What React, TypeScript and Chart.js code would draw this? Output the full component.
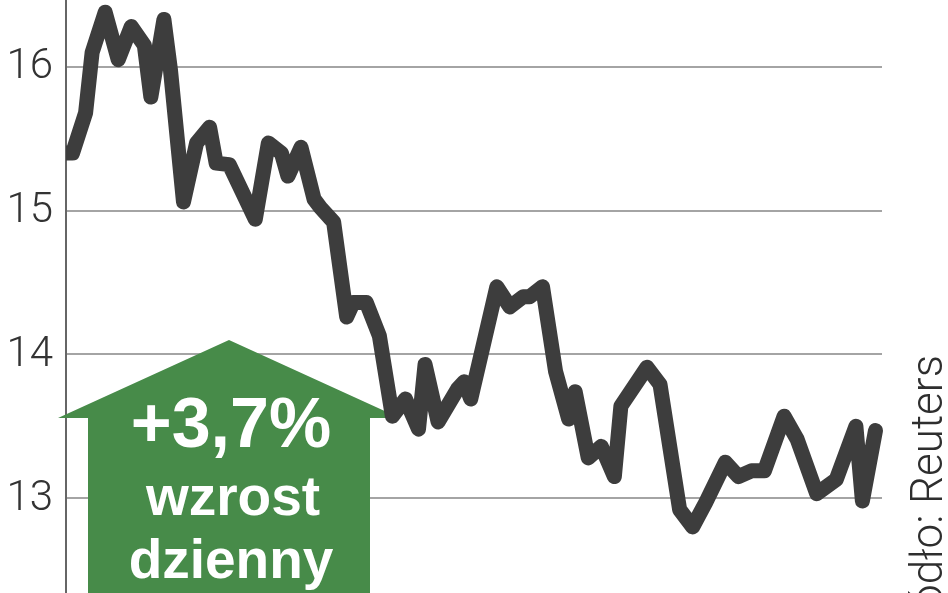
import * as React from 'react';
import { Chart, registerables } from 'chart.js';

Chart.register(...registerables);

// trading day number (from the first day shown) and closing price
const dayIndex = [0, 1, 3, 4, 6, 8, 10, 12, 13, 15, 16, 18, 20, 22, 23, 25, 29, 31, 33, 34, 36, 38, 39, 41, 43, 44, 46, 48, 50, 52, 54, 55, 57, 60, 61, 62, 66, 68, 70, 71, 73, 75, 77, 78, 80, 82, 84, 85, 89, 91, 94, 96, 98, 101, 103, 105, 107, 110, 112, 115, 118, 121, 122, 124];
const price = [15.40, 15.40, 15.68, 16.10, 16.38, 16.05, 16.28, 16.15, 15.79, 16.33, 15.98, 15.06, 15.47, 15.58, 15.33, 15.32, 14.94, 15.47, 15.40, 15.24, 15.44, 15.08, 15.02, 14.92, 14.26, 14.36, 14.36, 14.13, 13.57, 13.69, 13.48, 13.93, 13.53, 13.76, 13.81, 13.69, 14.47, 14.33, 14.40, 14.40, 14.47, 13.88, 13.55, 13.74, 13.28, 13.36, 13.15, 13.64, 13.91, 13.79, 12.92, 12.80, 12.97, 13.25, 13.15, 13.19, 13.19, 13.57, 13.41, 13.03, 13.13, 13.50, 12.98, 13.47];
const yTicks = [13, 14, 15, 16];

const badgeLines = ['+3,7%', 'wzrost', 'dzienny'];
const sourceText = 'Źródło: Reuters';

const GREEN = '#478b49';

// green "up" arrow with the daily change, under the line but over the grid
const badgePlugin = {
    id: 'badge',
    beforeDatasetsDraw(chart: Chart) {
        const ctx = chart.ctx;
        ctx.save();
        ctx.fillStyle = GREEN;
        ctx.beginPath();
        ctx.moveTo(229, 340);
        ctx.lineTo(400, 418);
        ctx.lineTo(370, 418);
        ctx.lineTo(370, 600);
        ctx.lineTo(88, 600);
        ctx.lineTo(88, 418);
        ctx.lineTo(58, 418);
        ctx.closePath();
        ctx.fill();

        ctx.fillStyle = '#ffffff';
        ctx.textAlign = 'center';
        ctx.textBaseline = 'alphabetic';
        ctx.font = 'bold 70px "Liberation Sans", Arial, sans-serif';
        ctx.fillText(badgeLines[0], 231, 447);
        ctx.font = 'bold 55px "Liberation Sans", Arial, sans-serif';
        ctx.fillText(badgeLines[1], 233, 515);
        ctx.fillText(badgeLines[2], 231, 578);
        ctx.restore();
    },
    afterDraw(chart: Chart) {
        const ctx = chart.ctx;
        const y = chart.scales.y;
        ctx.save();
        // y tick labels, drawn here so they do not push the chart area inwards
        ctx.fillStyle = '#333333';
        ctx.textAlign = 'right';
        ctx.textBaseline = 'middle';
        ctx.font = '300 42px Roboto, "Noto Sans", sans-serif';
        yTicks.forEach(v => ctx.fillText(String(v), 53, y.getPixelForValue(v) + 1));

        ctx.translate(942, 355);
        ctx.rotate(-Math.PI / 2);
        ctx.fillStyle = '#2e2e2e';
        ctx.textAlign = 'right';
        ctx.textBaseline = 'alphabetic';
        ctx.font = '300 44px Roboto, "Noto Sans", sans-serif';
        ctx.fillText(sourceText, 0, 0);
        ctx.restore();
    },
};

export default function App() {
    const canvasRef = React.useRef<HTMLCanvasElement>(null);

    React.useEffect(() => {
        if (!canvasRef.current) return;
        const chart = new Chart(canvasRef.current, {
            type: 'line',
            data: {
                datasets: [{
                    data: dayIndex.map((d, i) => ({ x: d, y: price[i] })),
                    borderColor: '#3d3d3d',
                    borderWidth: 15,
                    borderJoinStyle: 'round',
                    borderCapStyle: 'round',
                    pointRadius: 0,
                    tension: 0,
                    clip: { left: 0, top: 10, right: 10, bottom: 10 },
                }],
            },
            options: {
                responsive: false,
                animation: false,
                devicePixelRatio: 1,
                layout: { padding: { left: 66, right: 66, top: 0, bottom: 0 } },
                plugins: {
                    legend: { display: false },
                    tooltip: { enabled: false },
                },
                scales: {
                    x: {
                        type: 'linear',
                        min: 0,
                        max: 125,
                        display: false,
                    },
                    y: {
                        min: 12.34,
                        max: 16.465,
                        afterBuildTicks: (scale: any) => {
                            scale.ticks = yTicks.map(v => ({ value: v }));
                        },
                        grid: {
                            color: '#a4a4a4',
                            lineWidth: 2,
                            drawTicks: false,
                        },
                        border: { display: true, color: '#666666', width: 2 },
                        ticks: { display: false, padding: 0 },
                    },
                },
            },
            plugins: [badgePlugin],
        });
        return () => chart.destroy();
    }, []);

    return (
        <div style={{ position: 'absolute', left: 0, top: 0, width: 948, height: 593, background: '#ffffff' }}>
            <canvas ref={canvasRef} width={948} height={593}></canvas>
        </div>
    );
}
